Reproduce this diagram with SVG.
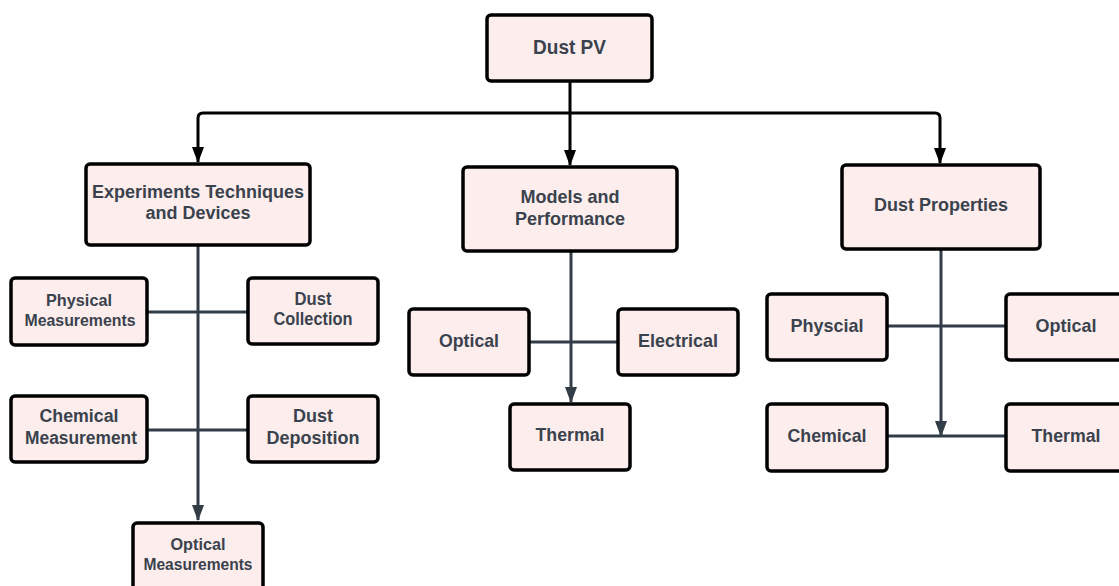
<svg xmlns="http://www.w3.org/2000/svg" width="1119" height="586" viewBox="0 0 1119 586">
<defs>
<style>
.box{fill:#fdeeed;stroke:#000;stroke-width:3.5}
.t{font-family:"Liberation Sans",Arial,sans-serif;font-weight:bold;fill:#3a424d;text-anchor:middle}
.k{fill:none;stroke:#000;stroke-width:3}
.g{fill:none;stroke:#323d48;stroke-width:3}
</style>
<marker id="ak" markerWidth="12" markerHeight="16" refX="6" refY="15" markerUnits="userSpaceOnUse" viewBox="0 0 12 16">
<path d="M0,0 L12,0 L6,16 Z" fill="#000"/>
</marker>
<marker id="ag" markerWidth="12" markerHeight="16" refX="6" refY="15" markerUnits="userSpaceOnUse" viewBox="0 0 12 16">
<path d="M0,0 L12,0 L6,16 Z" fill="#323d48"/>
</marker>
</defs>
<rect width="1119" height="586" fill="#fff"/>
<g id="connectors">
<path class="k" d="M570,81 V113"/>
<path class="k" d="M570,113 V165" marker-end="url(#ak)"/>
<path class="k" d="M570,113 H203 Q198,113 198,118 V162" marker-end="url(#ak)"/>
<path class="k" d="M570,113 H935 Q940,113 940,118 V163" marker-end="url(#ak)"/>
<path class="g" d="M198,245 V520" marker-end="url(#ag)"/>
<path class="g" d="M147,312 H248"/>
<path class="g" d="M147,430 H248"/>
<path class="g" d="M571,251 V402" marker-end="url(#ag)"/>
<path class="g" d="M529,342 H618"/>
<path class="g" d="M941,249 V436" marker-end="url(#ag)"/>
<path class="g" d="M887,326 H1006"/>
<path class="g" d="M887,436 H1006"/>
</g>
<g id="dust-pv"><rect class="box" x="487" y="15" width="165" height="66" rx="4"/><text class="t" x="569.5" y="54" font-size="20.5" textLength="73" lengthAdjust="spacingAndGlyphs">Dust PV</text></g>
<g id="experiments"><rect class="box" x="86" y="164" width="224" height="81" rx="4"/><text class="t" x="198" y="198" font-size="18" textLength="212" lengthAdjust="spacingAndGlyphs">Experiments Techniques</text><text class="t" x="198" y="219" font-size="18" textLength="105" lengthAdjust="spacingAndGlyphs">and Devices</text></g>
<g id="models"><rect class="box" x="463" y="167" width="214" height="84" rx="4"/><text class="t" x="570" y="203" font-size="18.5" textLength="99" lengthAdjust="spacingAndGlyphs">Models and</text><text class="t" x="570" y="225" font-size="18.5" textLength="110" lengthAdjust="spacingAndGlyphs">Performance</text></g>
<g id="dust-properties"><rect class="box" x="842" y="165" width="198" height="84" rx="4"/><text class="t" x="941" y="211" font-size="18" textLength="134" lengthAdjust="spacingAndGlyphs">Dust Properties</text></g>
<g id="physical-measurements"><rect class="box" x="11" y="278" width="136" height="67" rx="4"/><text class="t" x="79" y="306" font-size="17" textLength="66" lengthAdjust="spacingAndGlyphs">Physical</text><text class="t" x="80" y="326" font-size="16" textLength="111" lengthAdjust="spacingAndGlyphs">Measurements</text></g>
<g id="dust-collection"><rect class="box" x="248" y="278" width="130" height="66" rx="4"/><text class="t" x="313" y="305" font-size="17.5" textLength="37" lengthAdjust="spacingAndGlyphs">Dust</text><text class="t" x="313" y="325" font-size="17.5" textLength="79" lengthAdjust="spacingAndGlyphs">Collection</text></g>
<g id="chemical-measurement"><rect class="box" x="11" y="396" width="136" height="66" rx="4"/><text class="t" x="79" y="422" font-size="17.5" textLength="79" lengthAdjust="spacingAndGlyphs">Chemical</text><text class="t" x="81" y="444" font-size="17.5" textLength="112" lengthAdjust="spacingAndGlyphs">Measurement</text></g>
<g id="dust-deposition"><rect class="box" x="248" y="396" width="130" height="66" rx="4"/><text class="t" x="313" y="422" font-size="18.5" textLength="40" lengthAdjust="spacingAndGlyphs">Dust</text><text class="t" x="313" y="444" font-size="18.5" textLength="93" lengthAdjust="spacingAndGlyphs">Deposition</text></g>
<g id="optical-measurements"><rect class="box" x="133" y="523" width="130" height="80" rx="4"/><text class="t" x="198" y="550" font-size="16.5" textLength="55" lengthAdjust="spacingAndGlyphs">Optical</text><text class="t" x="198" y="570" font-size="16" textLength="109" lengthAdjust="spacingAndGlyphs">Measurements</text></g>
<g id="mp-optical"><rect class="box" x="409" y="309" width="120" height="66" rx="4"/><text class="t" x="469" y="347" font-size="19" textLength="60" lengthAdjust="spacingAndGlyphs">Optical</text></g>
<g id="mp-electrical"><rect class="box" x="618" y="309" width="120" height="66" rx="4"/><text class="t" x="678" y="347" font-size="19" textLength="80" lengthAdjust="spacingAndGlyphs">Electrical</text></g>
<g id="mp-thermal"><rect class="box" x="510" y="404" width="120" height="66" rx="4"/><text class="t" x="570" y="441" font-size="19" textLength="69" lengthAdjust="spacingAndGlyphs">Thermal</text></g>
<g id="dp-physcial"><rect class="box" x="767" y="294" width="120" height="66" rx="4"/><text class="t" x="827" y="332" font-size="19" textLength="73" lengthAdjust="spacingAndGlyphs">Physcial</text></g>
<g id="dp-optical"><rect class="box" x="1006" y="294" width="120" height="66" rx="4"/><text class="t" x="1066" y="332" font-size="19" textLength="61" lengthAdjust="spacingAndGlyphs">Optical</text></g>
<g id="dp-chemical"><rect class="box" x="767" y="404" width="120" height="67" rx="4"/><text class="t" x="827" y="442" font-size="19" textLength="79" lengthAdjust="spacingAndGlyphs">Chemical</text></g>
<g id="dp-thermal"><rect class="box" x="1006" y="404" width="120" height="67" rx="4"/><text class="t" x="1066" y="442" font-size="19" textLength="69" lengthAdjust="spacingAndGlyphs">Thermal</text></g>
</svg>
